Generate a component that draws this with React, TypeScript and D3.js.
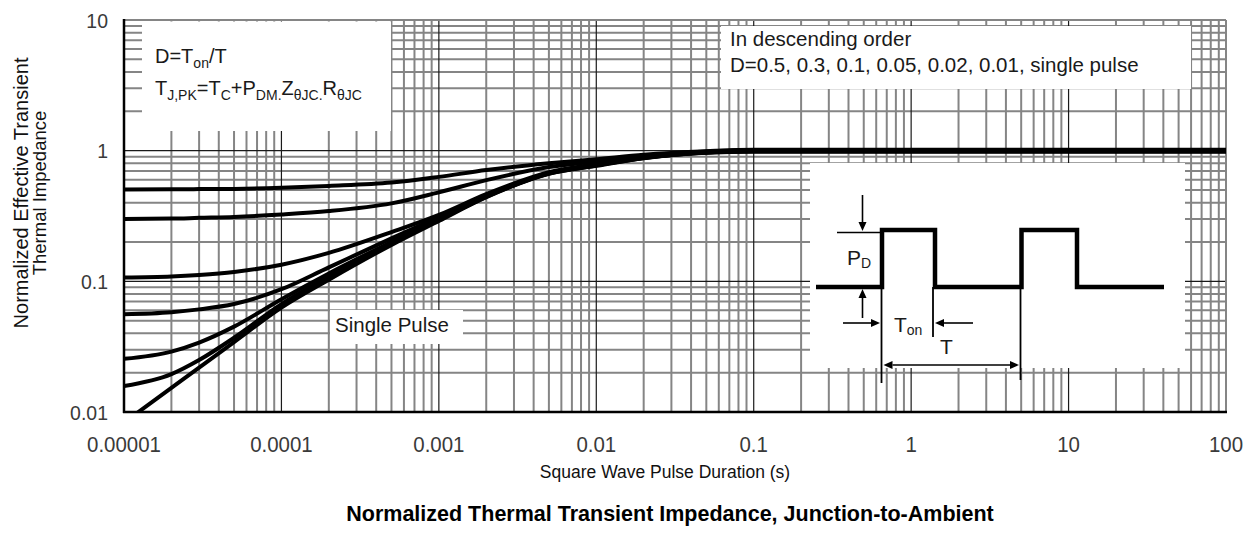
import React, { useEffect } from 'react';
import * as d3 from 'd3';

// ---------- data ----------
const durations = [1e-5, 2e-5, 3e-5, 5e-5, 1e-4, 2e-4, 5e-4, 1e-3, 2e-3, 5e-3, 1e-2, 2e-2, 5e-2, 0.1, 1, 10, 100];
const zD050 = [0.505, 0.506, 0.508, 0.51, 0.52, 0.537, 0.57, 0.63, 0.71, 0.8, 0.86, 0.93, 0.99, 1.018, 1.018, 1.018, 1.018];
const zD030 = [0.3, 0.302, 0.306, 0.311, 0.325, 0.345, 0.395, 0.48, 0.595, 0.75, 0.83, 0.915, 0.985, 1.012, 1.012, 1.012, 1.012];
const zD010 = [0.107, 0.109, 0.112, 0.118, 0.134, 0.165, 0.238, 0.322, 0.465, 0.685, 0.79, 0.89, 0.975, 1.006, 1.006, 1.006, 1.006];
const zD005 = [0.056, 0.058, 0.061, 0.067, 0.087, 0.128, 0.213, 0.31, 0.45, 0.676, 0.78, 0.885, 0.972, 1.0, 1.0, 1.0, 1.0];
const zD002 = [0.0255, 0.029, 0.034, 0.045, 0.073, 0.115, 0.2, 0.298, 0.447, 0.672, 0.775, 0.882, 0.97, 0.994, 0.994, 0.994, 0.994];
const zD001 = [0.0158, 0.0195, 0.025, 0.037, 0.067, 0.108, 0.195, 0.294, 0.443, 0.668, 0.77, 0.878, 0.967, 0.988, 0.988, 0.988, 0.988];
const zSingle = [0.0083, 0.0153, 0.0219, 0.0343, 0.063, 0.103, 0.19, 0.29, 0.44, 0.665, 0.765, 0.875, 0.965, 0.982, 0.982, 0.982, 0.982];
const seriesList = [zD050, zD030, zD010, zD005, zD002, zD001, zSingle];
const dutyLabels = ['0.5', '0.3', '0.1', '0.05', '0.02', '0.01', 'single pulse'];

const xTickLabels = ['0.00001', '0.0001', '0.001', '0.01', '0.1', '1', '10', '100'];
const yTickLabels = ['0.01', '0.1', '1', '10'];

const xTitle = 'Square Wave Pulse Duration (s)';
const yTitle1 = 'Normalized Effective Transient';
const yTitle2 = 'Thermal Impedance';
const chartTitle = 'Normalized Thermal Transient Impedance, Junction-to-Ambient';

// ---------- layout ----------
const W = 1252;
const H = 535;
const L = 124, R = 1226, T = 20, B = 412;
const FONT = "'Liberation Sans', Arial, Helvetica, sans-serif";

const x = d3.scaleLog().domain([1e-5, 100]).range([L, R]);
const y = d3.scaleLog().domain([0.01, 10]).range([B, T]);

const isPow10 = (v: number) => Math.abs(Math.log10(v) - Math.round(Math.log10(v))) < 1e-9;

const line = d3
  .line<[number, number]>()
  .x((d) => x(d[0]))
  .y((d) => y(d[1]))
  .curve(d3.curveMonotoneX);

function Arrow({ x1, y1, x2, y2 }: { x1: number; y1: number; x2: number; y2: number }) {
  const a = Math.atan2(y2 - y1, x2 - x1);
  const len = 9, half = 4;
  const bx = x2 - len * Math.cos(a), by = y2 - len * Math.sin(a);
  const p1 = [bx + half * Math.sin(a), by - half * Math.cos(a)];
  const p2 = [bx - half * Math.sin(a), by + half * Math.cos(a)];
  return (
    <g>
      <line x1={x1} y1={y1} x2={bx} y2={by} stroke="#000" strokeWidth={1.6} />
      <polygon points={`${x2},${y2} ${p1[0]},${p1[1]} ${p2[0]},${p2[1]}`} fill="#000" />
    </g>
  );
}

export default function App() {
  useEffect(() => {
    document.body.style.margin = '0';
  }, []);

  const ticksX = x.ticks();
  const ticksY = y.ticks();
  const majorX = ticksX.filter(isPow10);
  const majorY = ticksY.filter(isPow10);

  const gridGray = '#858585';

  return (
    <svg width={W} height={H} style={{ position: 'absolute', left: 0, top: 0, background: '#fff' }} fontFamily={FONT}>
      <defs>
        <clipPath id="plotClip">
          <rect x={L} y={T} width={R - L} height={B - T} />
        </clipPath>
      </defs>
      <rect x={0} y={0} width={W} height={H} fill="#fff" />

      {/* minor grid */}
      {ticksX.filter((t) => !isPow10(t)).map((t, i) => (
        <line key={'vx' + i} x1={x(t)} x2={x(t)} y1={T} y2={B} stroke={gridGray} strokeWidth={2} />
      ))}
      {ticksY.filter((t) => !isPow10(t)).map((t, i) => (
        <line key={'hy' + i} x1={L} x2={R} y1={y(t)} y2={y(t)} stroke={gridGray} strokeWidth={2} />
      ))}
      {/* major grid */}
      {majorX.slice(1, -1).map((t, i) => (
        <line key={'mx' + i} x1={x(t)} x2={x(t)} y1={T} y2={B} stroke="#1a1a1a" strokeWidth={1.2} />
      ))}
      {majorY.slice(1, -1).map((t, i) => (
        <line key={'my' + i} x1={L} x2={R} y1={y(t)} y2={y(t)} stroke="#1a1a1a" strokeWidth={1.2} />
      ))}
      {/* top & right frame (gray) */}
      <line x1={L} x2={R} y1={T} y2={T} stroke={gridGray} strokeWidth={2} />
      <line x1={R} x2={R} y1={T} y2={B} stroke={gridGray} strokeWidth={2} />

      {/* white annotation boxes */}
      <rect x={142} y={21.5} width={391 - 142} height={131 - 21.5} fill="#fff" />
      <rect x={721} y={26} width={1191 - 721} height={89 - 26} fill="#fff" />
      <rect x={810} y={163} width={1185 - 810} height={368 - 163} fill="#fff" />
      <rect x={330} y={310} width={463 - 330} height={344 - 310} fill="#fff" />

      {/* curves */}
      <g clipPath="url(#plotClip)">
        {seriesList.map((s, i) => (
          <path
            key={'c' + i}
            d={line(durations.map((t, j) => [t, s[j]] as [number, number])) || ''}
            fill="none"
            stroke="#000"
            strokeWidth={4}
          />
        ))}
      </g>

      {/* left & bottom axes */}
      <line x1={L} x2={L} y1={T - 1} y2={B + 1} stroke="#000" strokeWidth={2.5} />
      <line x1={L - 1} x2={R + 1} y1={B} y2={B} stroke="#000" strokeWidth={2.5} />

      {/* tick labels */}
      {majorX.map((t, i) => (
        <text
          key={'xl' + i}
          transform={`translate(${x(t)},452) scale(0.93,1)`}
          fontSize={22}
          textAnchor="middle"
          fill="#3a3a3a"
        >
          {xTickLabels[i]}
        </text>
      ))}
      {majorY.map((t, i) => (
        <text
          key={'yl' + i}
          transform={`translate(108,${y(t) + 7.5}) scale(0.95,1)`}
          fontSize={20.5}
          textAnchor="end"
          fill="#3a3a3a"
        >
          {yTickLabels[i]}
        </text>
      ))}

      {/* axis titles */}
      <text x={665} y={478} fontSize={17.5} textAnchor="middle" fill="#111">
        {xTitle}
      </text>
      <g transform="translate(0,193) rotate(-90)">
        <text x={0} y={28} fontSize={20} textAnchor="middle" fill="#111">
          {yTitle1}
        </text>
        <text x={0} y={46} fontSize={18.5} textAnchor="middle" fill="#111">
          {yTitle2}
        </text>
      </g>
      <text x={670} y={521} fontSize={21.5} fontWeight="bold" textAnchor="middle" fill="#000">
        {chartTitle}
      </text>

      {/* top-left annotation */}
      <text x={155} y={63} fontSize={20} fill="#1a1a1a">
        D=T<tspan fontSize={14} dy={5}>on</tspan>
        <tspan dy={-5}>/T</tspan>
      </text>
      <text x={155} y={94.5} fontSize={20} fill="#1a1a1a">
        T<tspan fontSize={14} dy={5}>J,PK</tspan>
        <tspan dy={-5}>=T</tspan>
        <tspan fontSize={14} dy={5}>C</tspan>
        <tspan dy={-5}>+P</tspan>
        <tspan fontSize={14} dy={5}>DM</tspan>
        <tspan fontSize={14}>.</tspan>
        <tspan dy={-5}>Z</tspan>
        <tspan fontSize={14} dy={5}>θJC</tspan>
        <tspan fontSize={14}>.</tspan>
        <tspan dy={-5}>R</tspan>
        <tspan fontSize={14} dy={5}>θJC</tspan>
      </text>

      {/* top-right annotation */}
      <text x={730} y={46} fontSize={20.5} fill="#1a1a1a">
        In descending order
      </text>
      <text x={730} y={72} fontSize={20.5} fill="#1a1a1a">
        {'D=' + dutyLabels.join(', ')}
      </text>

      {/* single pulse label */}
      <text x={335} y={332} fontSize={20.5} fill="#1a1a1a">
        Single Pulse
      </text>

      {/* inset pulse diagram */}
      <path
        d="M816,287 H882 V230 H935 V287 H1021.5 V230 H1077 V287 H1164"
        fill="none"
        stroke="#000"
        strokeWidth={4.5}
      />
      <line x1={837} x2={882} y1={232.5} y2={232.5} stroke="#000" strokeWidth={1.6} />
      <Arrow x1={862.5} y1={195} x2={862.5} y2={231} />
      <Arrow x1={862.5} y1={318} x2={862.5} y2={289} />
      <line x1={881.5} x2={881.5} y1={287} y2={383} stroke="#000" strokeWidth={1.8} />
      <line x1={933} x2={933} y1={287} y2={337} stroke="#000" strokeWidth={1.8} />
      <line x1={1020.5} x2={1020.5} y1={287} y2={380} stroke="#000" strokeWidth={1.8} />
      <Arrow x1={843} y1={323} x2={880} y2={323} />
      <Arrow x1={973} y1={323} x2={935} y2={323} />
      <Arrow x1={950} y1={365} x2={883.5} y2={365} />
      <Arrow x1={950} y1={365} x2={1019} y2={365} />
      <text x={847} y={265} fontSize={21} fill="#1a1a1a">
        P<tspan fontSize={14} dy={3}>D</tspan>
      </text>
      <text x={894} y={332} fontSize={21} fill="#1a1a1a">
        T<tspan fontSize={14} dy={3}>on</tspan>
      </text>
      <text x={940} y={354} fontSize={21} fill="#1a1a1a">
        T
      </text>
    </svg>
  );
}
